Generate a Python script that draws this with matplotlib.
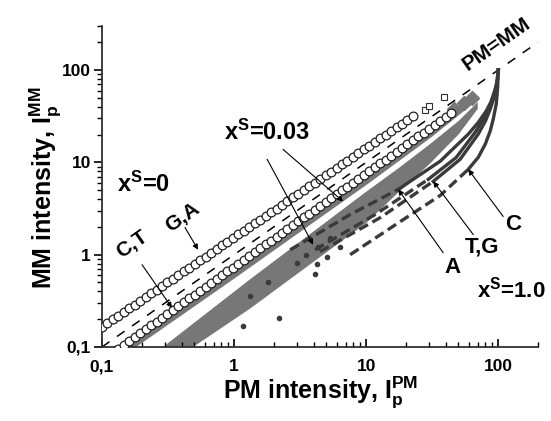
import matplotlib.pyplot as plt
import numpy as np

plt.rcParams['font.family'] = 'Liberation Sans'
plt.rcParams['font.weight'] = 'bold'
plt.rcParams['mathtext.fontset'] = 'custom'
plt.rcParams['mathtext.rm'] = 'Liberation Sans:bold'
plt.rcParams['mathtext.it'] = 'Liberation Sans:bold'
plt.rcParams['mathtext.bf'] = 'Liberation Sans:bold'

# === data ===
# x^S = 0, G,A (open circles, upper band)
ga_pm = [0.100, 0.110, 0.121, 0.133, 0.146, 0.161, 0.177, 0.195, 0.214, 0.235,
         0.259, 0.285, 0.313, 0.344, 0.379, 0.416, 0.458, 0.504, 0.554, 0.609,
         0.670, 0.737, 0.810, 0.891, 0.980, 1.078, 1.185, 1.303, 1.434, 1.577,
         1.734, 1.907, 2.097, 2.306, 2.537, 2.790, 3.068, 3.374, 3.711, 4.081,
         4.487, 4.935, 5.427, 5.968, 6.564, 7.219, 7.939, 8.731, 9.603, 10.56,
         11.61, 12.77, 14.05, 15.45, 16.99, 18.69, 20.55, 22.60]
ga_mm = [0.166, 0.182, 0.200, 0.219, 0.240, 0.263, 0.288, 0.316, 0.347, 0.380,
         0.417, 0.457, 0.501, 0.550, 0.603, 0.661, 0.724, 0.794, 0.871, 0.955,
         1.047, 1.148, 1.259, 1.380, 1.514, 1.660, 1.820, 1.995, 2.188, 2.399,
         2.630, 2.884, 3.162, 3.467, 3.802, 4.169, 4.571, 5.012, 5.495, 6.026,
         6.607, 7.244, 7.943, 8.710, 9.550, 10.47, 11.48, 12.59, 13.80, 15.14,
         16.60, 18.20, 19.95, 21.88, 23.99, 26.30, 28.84, 31.62]
ga_sq_pm = [28.0, 30.0, 39.0]
ga_sq_mm = [37.0, 40.7, 51.0]

# x^S = 0, C,T (open circles, lower band)
ct_pm = [0.133, 0.146, 0.161, 0.177, 0.195, 0.214, 0.235, 0.259, 0.285, 0.313,
         0.344, 0.379, 0.416, 0.458, 0.504, 0.554, 0.609, 0.670, 0.737, 0.810,
         0.891, 0.980, 1.078, 1.185, 1.303, 1.434, 1.577, 1.734, 1.907, 2.097,
         2.306, 2.537, 2.790, 3.068, 3.374, 3.711, 4.081, 4.487, 4.935, 5.427,
         5.968, 6.564, 7.219, 7.939, 8.731, 9.603, 10.56, 11.61, 12.77, 14.05,
         15.45, 16.99, 18.69, 20.55, 22.60, 24.86, 27.34, 30.06, 33.06, 36.36,
         39.99, 43.98]
ct_mm = [0.096, 0.106, 0.116, 0.128, 0.141, 0.155, 0.171, 0.188, 0.207, 0.228,
         0.251, 0.277, 0.305, 0.336, 0.369, 0.407, 0.448, 0.493, 0.543, 0.598,
         0.658, 0.725, 0.798, 0.879, 0.967, 1.065, 1.173, 1.291, 1.422, 1.565,
         1.723, 1.897, 2.089, 2.300, 2.532, 2.788, 3.070, 3.381, 3.722, 4.098,
         4.512, 4.968, 5.470, 6.023, 6.632, 7.302, 8.040, 8.851, 9.745, 10.73,
         11.81, 13.01, 14.32, 15.77, 17.36, 19.11, 21.05, 23.17, 25.51, 28.09,
         30.93, 34.05]

# x^S = 0.03, thin grey band and its diamonds
thin_pm = [0.16, 1.0, 10.0, 30.0, 50.0, 63.0]
thin_mm = [0.098, 0.61, 6.3, 20.0, 36.0, 47.0]
dia_pm = [46.0, 55.0, 63.0]
dia_mm = [37.7, 44.0, 50.0]

# x^S = 0.03, wide grey band (upper and lower edge)
wide_up_pm = [0.29, 1.32, 10.0, 17.5, 30.0, 50.0, 70.0]
wide_up_mm = [0.10, 0.54, 4.8, 8.6, 15.5, 28.0, 45.0]
wide_lo_pm = [0.49, 1.32, 10.0, 17.5, 30.0, 50.0, 70.0]
wide_lo_mm = [0.10, 0.26, 2.2, 4.7, 9.5, 20.0, 38.0]

# x^S = 1.0 curves: dashed low part, solid high part
a_pm_d = [2.66, 7.57, 17.5]
a_mm_d = [1.13, 2.72, 5.09]
a_pm = [17.5, 36.4, 59.3, 70.5, 81.1, 88.0, 94.9, 99.0, 100.0]
a_mm = [5.09, 10.3, 20.2, 27.0, 36.0, 45.0, 62.0, 80.0, 100.0]

t_pm_d = [4.11, 11.7, 29.5]
t_mm_d = [1.13, 2.72, 6.54]
t_pm = [29.5, 48.1, 67.0, 78.0, 86.0, 93.0, 97.5, 100.0]
t_mm = [6.54, 11.3, 21.2, 30.0, 40.0, 55.0, 72.0, 100.0]

g_pm_d = [4.48, 12.8, 32.2]
g_mm_d = [1.08, 2.52, 6.22]
g_pm = [32.2, 51.5, 70.5, 80.0, 87.0, 93.5, 97.8, 100.0]
g_mm = [6.22, 10.8, 20.2, 28.0, 37.7, 52.0, 70.0, 100.0]

c_pm_d = [7.57, 18.1, 36.4, 59.3]
c_mm_d = [1.0, 2.28, 4.38, 8.4]
c_pm = [59.3, 70.5, 79.7, 86.9, 91.6, 96.6, 99.0, 100.0]
c_mm = [8.4, 11.3, 15.7, 21.8, 29.3, 42.8, 65.0, 100.0]

dots_pm = [1.17, 2.19, 4.11, 4.26, 5.06, 6.35, 1.32, 1.81, 3.0, 3.5, 4.3, 5.3]
dots_mm = [0.169, 0.207, 0.61, 0.80, 0.95, 1.22, 0.36, 0.51, 0.82, 0.98, 1.22, 1.53]

diag = [0.1, 200.0]

fig = plt.figure(figsize=(5.51, 4.21), dpi=100)
ax = fig.add_axes([0.1851, 0.1758, 0.7913, 0.7625])
ax.set_xscale('log')
ax.set_yscale('log')
ax.set_xlim(0.1, 200)
ax.set_ylim(0.1, 300)

grey = '#777777'
dark = '#3a3a3a'

# wide grey band
ax.fill(wide_up_pm + wide_lo_pm[::-1], wide_up_mm + wide_lo_mm[::-1],
        color=grey, lw=0, zorder=1)
# thin grey band
ax.plot(thin_pm, thin_mm, color=grey, lw=5, solid_capstyle='butt', zorder=2)
ax.plot(dia_pm, dia_mm, 'D', color=grey, ms=7, mec=grey, zorder=2)

# x^S = 1.0 curves
for px, py in [(a_pm_d, a_mm_d), (t_pm_d, t_mm_d), (g_pm_d, g_mm_d), (c_pm_d, c_mm_d)]:
    ax.plot(px, py, color=dark, lw=2.4, ls=(0, (3, 1.5)), zorder=3)
for px, py in [(a_pm, a_mm), (t_pm, t_mm), (g_pm, g_mm), (c_pm, c_mm)]:
    ax.plot(px, py, color=dark, lw=2.4, zorder=3)
ax.plot(dots_pm, dots_mm, 'o', color=dark, ms=3, zorder=3)

# diagonal PM = MM
ax.plot(diag, diag, color='black', lw=1.1, ls=(0, (6, 6)), zorder=2)

# x^S = 0 circles
ax.plot(ga_pm, ga_mm, 'o', mfc='white', mec='#202020', mew=0.9, ms=6.3, zorder=4)
ax.plot(ga_sq_pm, ga_sq_mm, 's', mfc='white', mec='#303030', mew=0.8, ms=4.5, zorder=4)
ax.plot(ct_pm, ct_mm, 'o', mfc='white', mec='#202020', mew=0.9, ms=6.3, zorder=4)

# arrows
arr = dict(arrowstyle='-|>', color='black', lw=0.8, mutation_scale=8, shrinkA=0, shrinkB=0)
arrows = [((0.534, 1.13), (0.425, 1.97)),
          ((0.339, 0.265), (0.201, 0.779)),
          ((6.69, 3.77), (2.35, 13.8)),
          ((3.97, 1.28), (1.78, 10.8)),
          ((17.5, 5.09), (38.3, 1.05)),
          ((32.2, 6.22), (64.7, 1.65)),
          ((59.3, 8.4), (109.0, 2.59))]
for tip, start in arrows:
    ax.annotate('', xy=tip, xytext=start, arrowprops=arr, zorder=5)

# labels
ax.text(0.205, 5.77, r'x$^\mathrm{S}$=0', fontsize=17, ha='center', va='center')
ax.text(1.78, 21.2, r'x$^\mathrm{S}$=0.03', fontsize=17, ha='center', va='center')
ax.text(125, 0.417, r'x$^\mathrm{S}$=1.0', fontsize=16, ha='center', va='center')
ax.text(0.169, 1.28, 'C,T', fontsize=15, rotation=35, ha='center', va='center')
ax.text(0.404, 2.52, 'G,A', fontsize=15, rotation=35, ha='center', va='center')
ax.text(96.6, 192, 'PM=MM', fontsize=15, rotation=35, ha='center', va='center')
ax.text(44.8, 0.72, 'A', fontsize=16, ha='center', va='center')
ax.text(75.7, 1.22, 'T,G', fontsize=16, ha='center', va='center')
ax.text(130, 2.12, 'C', fontsize=16, ha='center', va='center')

# axes style
for s in ['top', 'right']:
    ax.spines[s].set_visible(False)
for s in ['left', 'bottom']:
    ax.spines[s].set_linewidth(1.3)
    ax.spines[s].set_color('#303030')

ax.set_xticks([0.1, 1, 10, 100])
ax.set_xticklabels(['0,1', '1', '10', '100'])
ax.set_yticks([0.1, 1, 10, 100])
ax.set_yticklabels(['0,1', '1', '10', '100'])
ax.tick_params(axis='x', which='major', direction='in', length=6, width=1.2, labelsize=12.5, pad=9)
ax.tick_params(axis='x', which='minor', direction='in', length=3.5, width=1.0)
ax.tick_params(axis='y', which='major', direction='out', length=6, width=1.2, labelsize=12.5, pad=2)
ax.tick_params(axis='y', which='minor', direction='out', length=3.5, width=1.0)

fig.text(45 / 551, 1 - 188 / 421, r'MM intensity, I$_\mathrm{p}^\mathrm{MM}$', fontsize=18,
         rotation=90, ha='center', va='center')
fig.text(321 / 551, 1 - 392 / 421, r'PM intensity, I$_\mathrm{p}^\mathrm{PM}$', fontsize=18,
         ha='center', va='center')

fig.savefig('out.png', dpi=100)
